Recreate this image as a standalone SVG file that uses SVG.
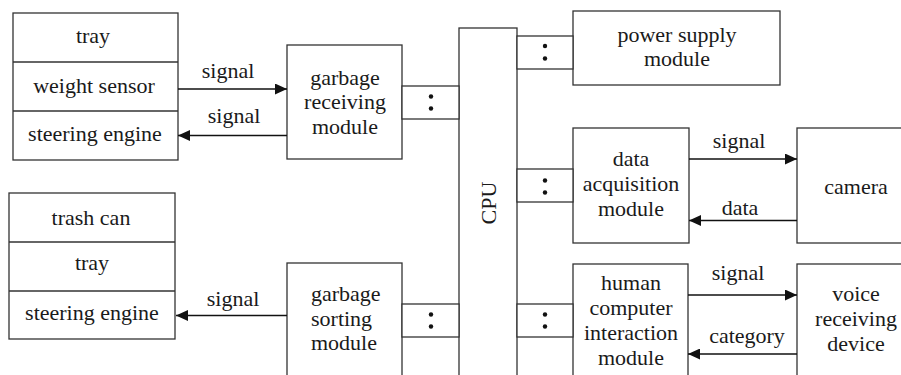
<svg xmlns="http://www.w3.org/2000/svg" width="901" height="375" viewBox="0 0 901 375">
<defs>
<marker id="ah" viewBox="0 0 12 11" refX="12" refY="5.5" markerWidth="12" markerHeight="11" markerUnits="userSpaceOnUse" orient="auto">
<path d="M0,0 L12,5.5 L0,11 z" fill="#111"/>
</marker>
<style>
.b{fill:#fff;stroke:#333;stroke-width:1.3}
.l{fill:none;stroke:#333;stroke-width:1.3}
.a{fill:none;stroke:#111;stroke-width:1.6}
text{font-family:"Liberation Serif","Times New Roman",serif;font-size:22px;fill:#1a1a1a;text-anchor:middle}
.d{fill:#111}
</style>
</defs>
<rect width="901" height="375" fill="#fff"/>
<g id="top-left-stack">
<rect class="b" x="13" y="13" width="165" height="147"/>
<line class="l" x1="13" y1="62" x2="178" y2="62"/>
<line class="l" x1="13" y1="111" x2="178" y2="111"/>
<text x="93" y="43">tray</text>
<text x="94" y="93">weight sensor</text>
<text x="95" y="141">steering engine</text>
</g>
<g id="bottom-left-stack">
<rect class="b" x="9" y="193" width="166" height="146"/>
<line class="l" x1="9" y1="242" x2="175" y2="242"/>
<line class="l" x1="9" y1="291" x2="175" y2="291"/>
<text x="91" y="225">trash can</text>
<text x="92" y="270">tray</text>
<text x="92" y="320">steering engine</text>
</g>
<g id="garbage-receiving">
<rect class="b" x="287" y="45" width="115" height="114"/>
<text x="345" y="85">garbage</text>
<text x="345" y="109">receiving</text>
<text x="345" y="134">module</text>
</g>
<g id="garbage-sorting">
<rect class="b" x="287" y="263" width="115" height="120"/>
<text x="311" y="301" style="text-anchor:start">garbage</text>
<text x="311" y="326" style="text-anchor:start">sorting</text>
<text x="311" y="350" style="text-anchor:start">module</text>
</g>
<g id="cpu">
<rect class="b" x="459" y="28" width="58" height="360"/>
<text transform="translate(496,203) rotate(-90)">CPU</text>
</g>
<g id="power-supply">
<rect class="b" x="573" y="11" width="207" height="74"/>
<text x="677" y="42">power supply</text>
<text x="677" y="66">module</text>
</g>
<g id="data-acquisition">
<rect class="b" x="573" y="128" width="116" height="115"/>
<text x="631" y="166">data</text>
<text x="631" y="191">acquisition</text>
<text x="631" y="216">module</text>
</g>
<g id="hci">
<rect class="b" x="573" y="264" width="115" height="120"/>
<text x="631" y="290">human</text>
<text x="631" y="315">computer</text>
<text x="631" y="340">interaction</text>
<text x="631" y="365">module</text>
</g>
<g id="camera">
<rect class="b" x="797" y="128" width="120" height="115"/>
<text x="856" y="194">camera</text>
</g>
<g id="voice-device">
<rect class="b" x="797" y="264" width="120" height="120"/>
<text x="856" y="301">voice</text>
<text x="856" y="326">receiving</text>
<text x="856" y="351">device</text>
</g>
<g id="connectors">
<g id="bus-links">
<rect class="b" x="402" y="86" width="57" height="33"/>
<circle class="d" cx="431" cy="96.5" r="2.2"/><circle class="d" cx="431" cy="108.5" r="2.2"/>
<rect class="b" x="402" y="304" width="57" height="33"/>
<circle class="d" cx="431" cy="314.5" r="2.2"/><circle class="d" cx="431" cy="326.5" r="2.2"/>
<rect class="b" x="517" y="36" width="56" height="33"/>
<circle class="d" cx="545" cy="46" r="2.2"/><circle class="d" cx="545" cy="58.5" r="2.2"/>
<rect class="b" x="517" y="169" width="56" height="33"/>
<circle class="d" cx="545" cy="180.5" r="2.2"/><circle class="d" cx="545" cy="192.5" r="2.2"/>
<rect class="b" x="517" y="304" width="56" height="33"/>
<circle class="d" cx="545" cy="314.5" r="2.2"/><circle class="d" cx="545" cy="326.5" r="2.2"/>
</g>
<line class="a" x1="178" y1="89" x2="287" y2="89" marker-end="url(#ah)"/>
<text x="228" y="78">signal</text>
<line class="a" x1="287" y1="135.5" x2="178" y2="135.5" marker-end="url(#ah)"/>
<text x="234" y="123">signal</text>
<line class="a" x1="287" y1="315.5" x2="176" y2="315.5" marker-end="url(#ah)"/>
<text x="233" y="306">signal</text>
<line class="a" x1="689" y1="159" x2="797" y2="159" marker-end="url(#ah)"/>
<text x="739" y="148">signal</text>
<line class="a" x1="797" y1="220.5" x2="689" y2="220.5" marker-end="url(#ah)"/>
<text x="740" y="215">data</text>
<line class="a" x1="688" y1="295" x2="797" y2="295" marker-end="url(#ah)"/>
<text x="738" y="280">signal</text>
<line class="a" x1="797" y1="354" x2="688" y2="354" marker-end="url(#ah)"/>
<text x="747" y="343">category</text>
</g>
</svg>
